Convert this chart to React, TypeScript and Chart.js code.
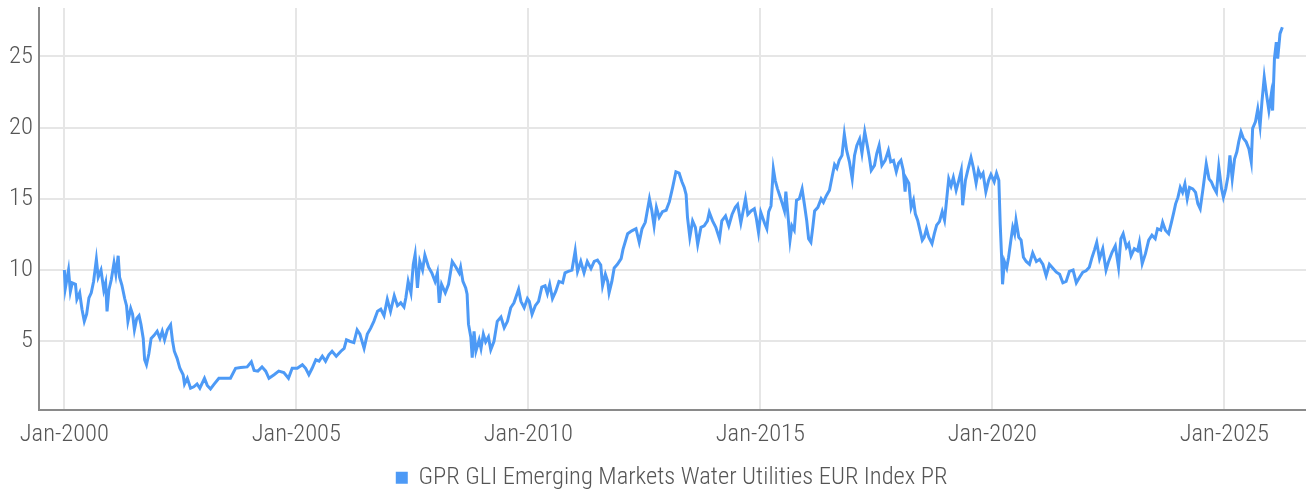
import { useEffect, useRef } from 'react';
import { Chart, registerables } from 'chart.js';

Chart.register(...registerables);

const seriesLabel = 'GPR GLI Emerging Markets Water Utilities EUR Index PR';
const xTickYears = [2000, 2005, 2010, 2015, 2020, 2025];
const yTickValues = [5, 10, 15, 20, 25];

// decimal years
const dates = [
  2000.00, 2000.02, 2000.09, 2000.13, 2000.17, 2000.24, 2000.27, 2000.33, 2000.38, 2000.43,
  2000.48, 2000.53, 2000.58, 2000.63, 2000.69, 2000.73, 2000.79, 2000.85, 2000.89, 2000.92,
  2000.96, 2001.01, 2001.07, 2001.11, 2001.16, 2001.19, 2001.24, 2001.30, 2001.34, 2001.37,
  2001.43, 2001.47, 2001.51, 2001.56, 2001.61, 2001.65, 2001.70, 2001.73, 2001.77, 2001.82,
  2001.87, 2001.93, 2002.00, 2002.06, 2002.11, 2002.16, 2002.22, 2002.29, 2002.33, 2002.37,
  2002.43, 2002.49, 2002.56, 2002.59, 2002.65, 2002.72, 2002.79, 2002.86, 2002.92, 2003.02,
  2003.08, 2003.15, 2003.22, 2003.33, 2003.44, 2003.58, 2003.69, 2003.80, 2003.94, 2004.03,
  2004.09, 2004.17, 2004.26,
  2004.34, 2004.41, 2004.52, 2004.62, 2004.73, 2004.83, 2004.91, 2005.02, 2005.13, 2005.20,
  2005.27, 2005.34, 2005.42, 2005.49, 2005.56, 2005.63, 2005.70, 2005.77, 2005.86, 2005.96,
  2006.03, 2006.08, 2006.15, 2006.24, 2006.31, 2006.37, 2006.46, 2006.53, 2006.60, 2006.67,
  2006.75, 2006.82, 2006.89, 2006.96, 2007.03, 2007.11, 2007.18, 2007.25, 2007.32, 2007.36,
  2007.41, 2007.47, 2007.52, 2007.56, 2007.61, 2007.66, 2007.72, 2007.77, 2007.85, 2007.92,
  2007.99, 2008.04, 2008.08, 2008.13, 2008.21, 2008.28, 2008.36, 2008.44, 2008.51, 2008.54,
  2008.59, 2008.65, 2008.68, 2008.71,
  2008.76, 2008.79, 2008.83, 2008.87, 2008.94, 2008.98, 2009.03, 2009.08, 2009.14, 2009.19,
  2009.26, 2009.33, 2009.41, 2009.48, 2009.55, 2009.62, 2009.69, 2009.79, 2009.84, 2009.91,
  2009.98, 2010.02, 2010.08, 2010.15, 2010.22, 2010.29, 2010.36, 2010.41, 2010.46, 2010.52,
  2010.59, 2010.66, 2010.74, 2010.79, 2010.86, 2010.94, 2011.01, 2011.06, 2011.13, 2011.20,
  2011.27, 2011.35, 2011.42, 2011.49, 2011.56, 2011.60, 2011.66, 2011.71, 2011.74, 2011.80,
  2011.85, 2011.92, 2012.00, 2012.04, 2012.14, 2012.23, 2012.32, 2012.39, 2012.45, 2012.52,
  2012.61, 2012.66, 2012.71, 2012.76, 2012.82, 2012.89, 2012.97, 2013.04, 2013.11,
  2013.18, 2013.25, 2013.31, 2013.36, 2013.40, 2013.43, 2013.48, 2013.54, 2013.60, 2013.65,
  2013.72, 2013.79, 2013.86, 2013.90, 2013.97, 2014.04, 2014.12, 2014.17, 2014.25, 2014.32,
  2014.39, 2014.46, 2014.51, 2014.58, 2014.68, 2014.73, 2014.80, 2014.87, 2014.91, 2014.96,
  2015.01, 2015.09, 2015.14, 2015.18, 2015.23, 2015.28, 2015.32, 2015.37, 2015.41, 2015.47,
  2015.52, 2015.55, 2015.59, 2015.64, 2015.68, 2015.73, 2015.78, 2015.84, 2015.90, 2015.95,
  2016.00, 2016.04, 2016.09, 2016.13, 2016.17, 2016.24, 2016.31, 2016.36, 2016.42, 2016.49,
  2016.55, 2016.60, 2016.65, 2016.70, 2016.76, 2016.81, 2016.86, 2016.92, 2016.98, 2017.03,
  2017.08, 2017.14, 2017.19, 2017.25, 2017.31, 2017.35, 2017.39, 2017.46, 2017.51, 2017.56,
  2017.62, 2017.69, 2017.76,
  2017.81, 2017.87, 2017.93, 2017.98, 2018.03, 2018.08, 2018.12, 2018.14, 2018.20, 2018.25,
  2018.30, 2018.34, 2018.39, 2018.44, 2018.49, 2018.53, 2018.58, 2018.63, 2018.70, 2018.75,
  2018.80, 2018.86, 2018.92, 2018.97, 2019.00, 2019.06, 2019.11, 2019.16, 2019.22, 2019.27,
  2019.33, 2019.36, 2019.42, 2019.47, 2019.54, 2019.59, 2019.65, 2019.70, 2019.75, 2019.80,
  2019.86, 2019.92, 2019.97, 2020.04, 2020.09, 2020.14, 2020.17, 2020.20, 2020.22, 2020.26,
  2020.31, 2020.35, 2020.40, 2020.44, 2020.48, 2020.51, 2020.57, 2020.62, 2020.67, 2020.73,
  2020.80, 2020.87, 2020.95, 2021.02, 2021.09, 2021.16, 2021.23, 2021.30, 2021.38, 2021.45,
  2021.52, 2021.59, 2021.66, 2021.74, 2021.81, 2021.88, 2021.95, 2022.02, 2022.09,
  2022.15, 2022.20, 2022.25, 2022.31, 2022.38, 2022.45, 2022.50, 2022.58, 2022.65, 2022.72,
  2022.77, 2022.82, 2022.89, 2022.94, 2022.99, 2023.06, 2023.13, 2023.17, 2023.23, 2023.30,
  2023.37, 2023.44, 2023.51, 2023.56, 2023.63, 2023.67, 2023.73, 2023.80, 2023.86, 2023.91,
  2023.95, 2024.00, 2024.05,
  2024.10, 2024.15, 2024.20, 2024.25, 2024.32, 2024.38, 2024.43, 2024.48, 2024.54, 2024.61,
  2024.67, 2024.72, 2024.77, 2024.83, 2024.88, 2024.94, 2024.98, 2025.03, 2025.08, 2025.12,
  2025.17, 2025.22, 2025.27, 2025.31, 2025.36, 2025.41, 2025.47, 2025.53, 2025.58, 2025.61,
  2025.67, 2025.72, 2025.77, 2025.81, 2025.86, 2025.91, 2025.96, 2026.01, 2026.04, 2026.08,
  2026.12, 2026.15, 2026.20, 2026.25,
];

const values = [
  10.0, 8.7, 10.0, 8.5, 9.1, 9.0, 7.95, 8.4, 7.25, 6.4,
  6.9, 8.05, 8.4, 9.2, 10.75, 9.5, 10.0, 8.6, 9.1, 7.1,
  8.6, 9.3, 10.5, 9.7, 11.0, 9.5, 8.95, 8.0, 7.5, 6.4,
  7.3, 6.9, 5.8, 6.6, 6.8, 6.2, 5.2, 3.7, 3.35, 4.1,
  5.2, 5.4, 5.7, 5.2, 5.7, 5.1, 5.8, 6.15, 5.05, 4.3,
  3.8, 3.1, 2.65, 2.0, 2.4, 1.7, 1.8, 2.0, 1.7, 2.4,
  1.9, 1.65, 1.95, 2.4, 2.4, 2.4, 3.1, 3.15, 3.2, 3.55,
  2.95, 2.9, 3.2,
  2.9, 2.4, 2.65, 2.9, 2.8, 2.4, 3.1, 3.1, 3.35, 3.1,
  2.65, 3.1, 3.7, 3.6, 3.95, 3.6, 4.05, 4.3, 3.95, 4.3,
  4.5, 5.1, 5.0, 4.9, 5.8, 5.5, 4.5, 5.5, 5.9, 6.4,
  7.1, 7.25, 6.8, 7.95, 7.1, 8.2, 7.5, 7.7, 7.4, 8.05,
  9.2, 8.4, 10.4, 11.1, 8.75, 10.6, 10.0, 11.05, 10.2, 9.8,
  9.2, 9.8, 7.7, 9.0, 8.4, 9.0, 10.6, 10.2, 9.8, 10.2,
  9.2, 8.75, 8.3, 6.2,
  5.3, 3.85, 5.7, 4.3, 5.1, 4.5, 5.5, 4.95, 5.3, 4.4,
  5.0, 6.4, 6.7, 5.95, 6.4, 7.35, 7.7, 8.65, 7.8, 7.35,
  8.0, 7.8, 6.9, 7.5, 7.8, 8.8, 8.9, 8.35, 9.0, 8.0,
  8.5, 9.2, 9.1, 9.8, 9.9, 10.0, 11.35, 9.9, 10.6, 9.8,
  10.6, 10.1, 10.6, 10.7, 10.35, 8.9, 9.7, 9.2, 8.4, 9.2,
  10.15, 10.4, 10.8, 11.45, 12.55, 12.75, 12.9, 11.95, 12.9, 13.35,
  15.0, 14.2, 13.1, 14.4, 13.7, 14.1, 14.2, 14.8, 15.8,
  16.9, 16.8, 16.2, 15.8, 15.3, 13.7, 12.3, 13.45, 13.0, 11.8,
  13.0, 13.1, 13.45, 14.05, 13.45, 13.0, 12.2, 13.45, 13.8, 13.1,
  13.9, 14.4, 14.6, 13.3, 15.0, 13.9, 14.15, 14.3, 13.7, 12.65,
  14.05, 13.3, 12.9, 14.1, 14.5, 17.1, 16.3, 15.7, 15.3, 14.7,
  14.15, 15.5, 14.05, 12.1, 13.1, 12.8, 14.9, 15.0, 15.7, 14.6,
  13.45, 12.2, 11.95, 13.0, 14.15, 14.4, 15.0, 14.75, 15.2, 15.6,
  16.6, 17.4, 17.15, 17.7, 18.05, 19.55, 18.4, 17.6, 16.4, 18.05,
  18.75, 19.2, 18.2, 19.7, 18.65, 17.9, 17.0, 17.35, 18.2, 18.75,
  17.35, 17.7, 18.4,
  17.6, 17.7, 16.9, 17.5, 17.7, 17.0, 15.5, 16.45, 16.1, 14.4,
  14.9, 13.95, 13.5, 12.8, 12.1, 12.3, 12.9, 12.3, 11.85, 12.55,
  13.15, 13.4, 14.1, 13.5, 14.45, 16.4, 15.9, 16.5, 15.6, 16.2,
  17.0, 14.55, 16.3, 17.0, 17.9, 17.2, 16.1, 17.0, 16.55, 16.8,
  15.5, 16.3, 16.7, 16.2, 16.8, 16.3, 13.2, 10.9, 9.0, 10.6,
  10.15, 10.9, 12.1, 13.0, 12.55, 13.5, 12.3, 12.1, 10.9, 10.6,
  10.4, 11.2, 10.6, 10.75, 10.4, 9.6, 10.4, 10.15, 9.85, 9.7,
  9.1, 9.2, 9.9, 10.0, 9.1, 9.5, 9.85, 9.95, 10.2,
  10.9, 11.4, 11.95, 10.8, 11.5, 10.0, 10.55, 11.25, 11.7, 10.2,
  12.2, 12.55, 11.6, 11.85, 11.0, 11.5, 11.35, 11.95, 10.45, 11.15,
  12.1, 12.45, 12.2, 12.9, 12.8, 13.35, 12.8, 12.55, 13.35, 14.05,
  14.65, 15.1, 15.8,
  15.45, 16.05, 15.0, 15.8, 15.7, 15.45, 14.65, 14.3, 15.7, 17.45,
  16.4, 16.2, 15.8, 15.45, 17.25, 15.7, 15.1, 15.7, 16.6, 18.05,
  16.4, 17.8, 18.3, 19.0, 19.7, 19.25, 19.0, 18.5, 17.6, 19.95,
  20.4, 21.3, 20.1, 21.8, 23.55, 22.3, 21.2, 22.3, 21.2, 24.85,
  26.0, 24.85, 26.6, 27.05,
];

const FONT_FAMILY = 'Roboto';
const FONT_WEIGHT: any = '300 condensed';
const FONT_SIZE = 24.5;
const TEXT_COLOR = '#555555';
const LINE_COLOR = '#4d9af6';

export default function App() {
  const ref = useRef<HTMLCanvasElement>(null);

  useEffect(() => {
    document.body.style.margin = '0';
    const canvas = ref.current;
    if (!canvas) return;
    const points = dates.map((d, i) => ({ x: d, y: values[i] }));
    const chart = new Chart(canvas, {
      type: 'line',
      data: {
        datasets: [
          {
            label: seriesLabel,
            data: points,
            borderColor: LINE_COLOR,
            backgroundColor: LINE_COLOR,
            borderWidth: 3,
            pointRadius: 0,
            tension: 0,
            fill: false,
          },
        ],
      },
      options: {
        animation: false,
        responsive: false,
        devicePixelRatio: 1,
        layout: { padding: { left: 3, top: 8, right: 0, bottom: -7 } },
        plugins: {
          tooltip: { enabled: false },
          legend: {
            position: 'bottom',
            fullSize: false,
            labels: {
              boxWidth: 9,
              boxHeight: 9,
              color: TEXT_COLOR,
              font: { family: FONT_FAMILY, size: FONT_SIZE, weight: FONT_WEIGHT },
              padding: 4.5,
            },
          },
        },
        scales: {
          x: {
            type: 'linear',
            min: 1999.45,
            max: 2026.76,
            afterBuildTicks: (scale: any) => {
              scale.ticks = xTickYears.map((v) => ({ value: v }));
            },
            ticks: {
              callback: (v: any) => 'Jan-' + v,
              color: TEXT_COLOR,
              font: { family: FONT_FAMILY, size: FONT_SIZE, weight: FONT_WEIGHT },
              padding: 11,
              maxRotation: 0,
              autoSkip: false,
            },
            grid: { color: '#e6e6e6', lineWidth: 2, drawTicks: false },
            border: { color: '#8a8a8a', width: 2 },
          },
          y: {
            type: 'linear',
            min: 0.2,
            max: 28.4,
            afterBuildTicks: (scale: any) => {
              scale.ticks = yTickValues.map((v) => ({ value: v }));
            },
            ticks: {
              callback: (v: any) => String(v),
              color: TEXT_COLOR,
              font: { family: FONT_FAMILY, size: FONT_SIZE, weight: FONT_WEIGHT, lineHeight: 0.1 },
              padding: 6,
            },
            grid: { color: '#e6e6e6', lineWidth: 2, drawTicks: false },
            border: { color: '#8a8a8a', width: 2 },
          },
        },
      },
    });
    return () => chart.destroy();
  }, []);

  return (
    <div style={{ position: 'absolute', left: 0, top: 0, width: 1306, height: 493 }}>
      <canvas ref={ref} width={1306} height={493} style={{ display: 'block' }} />
    </div>
  );
}
